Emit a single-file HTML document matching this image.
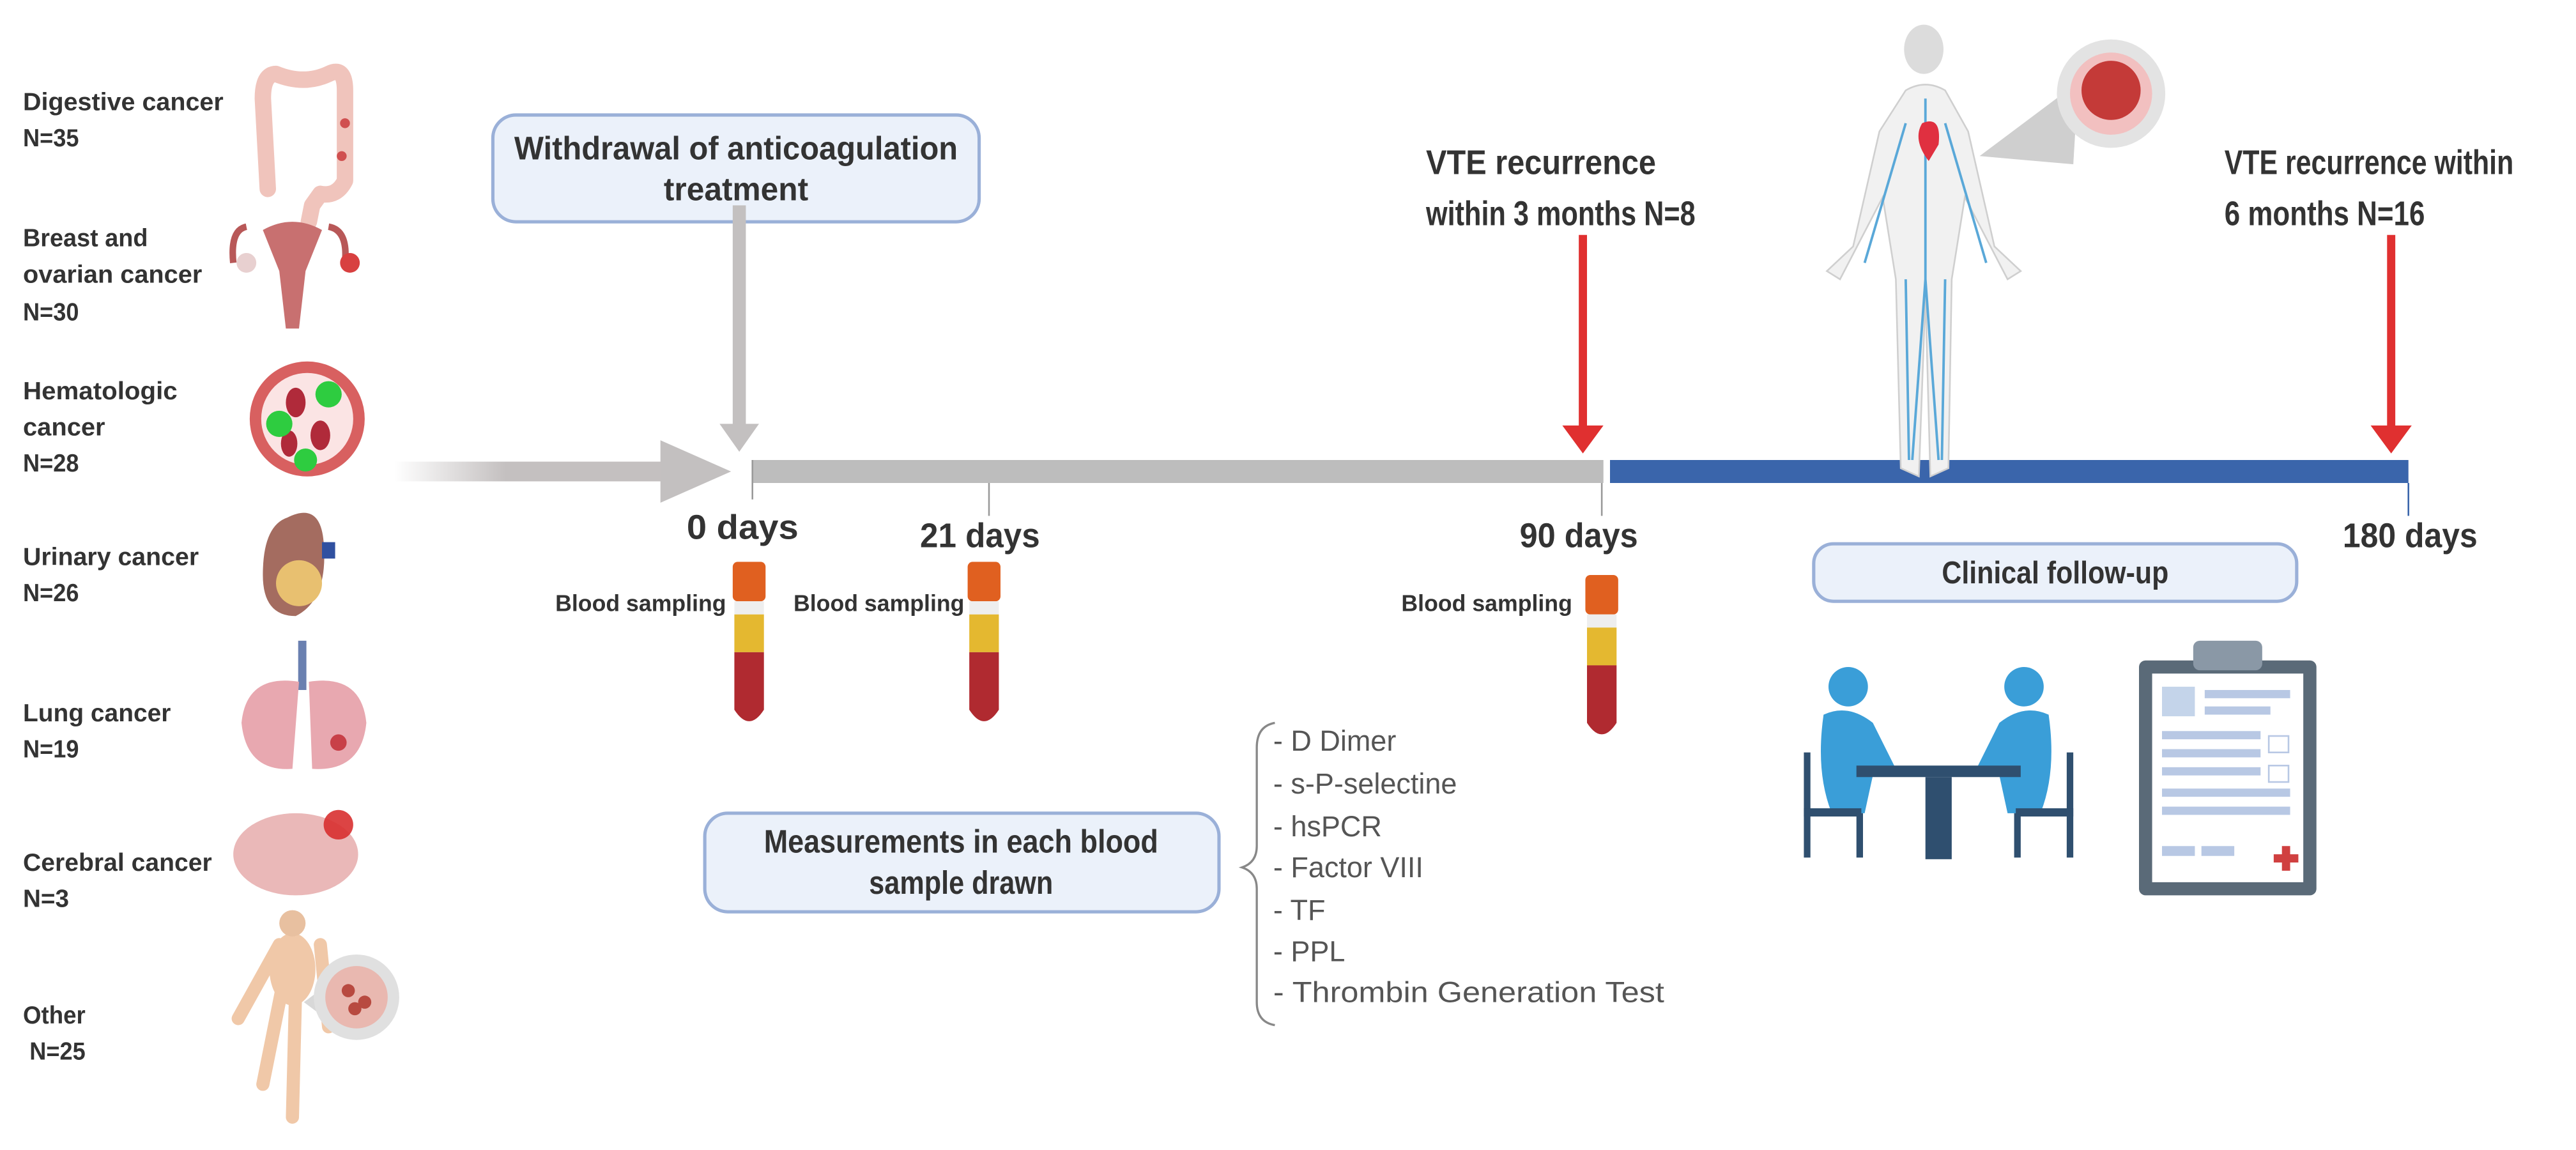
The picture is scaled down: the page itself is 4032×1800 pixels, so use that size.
<!DOCTYPE html>
<html><head><meta charset="utf-8"><style>
html,body{margin:0;padding:0;background:#fff;}
svg{display:block;}
text{font-family:"Liberation Sans Narrow","Liberation Sans",sans-serif;}
.b{font-weight:bold;fill:#333;}
.l{font-size:15px;}
</style></head><body>
<svg width="4032" height="1800" viewBox="0 0 1568 700" xmlns="http://www.w3.org/2000/svg">
<defs>
<linearGradient id="g1" x1="0" x2="1"><stop offset="0" stop-color="#c4c0c0" stop-opacity="0"/><stop offset="0.4" stop-color="#c4c0c0"/></linearGradient>
</defs>
<g class="b l">
<text x="14" y="67" textLength="122" lengthAdjust="spacingAndGlyphs">Digestive cancer</text>
<text x="14" y="89" textLength="34" lengthAdjust="spacingAndGlyphs">N=35</text>
<text x="14" y="150" textLength="76" lengthAdjust="spacingAndGlyphs">Breast and</text>
<text x="14" y="172" textLength="109" lengthAdjust="spacingAndGlyphs">ovarian cancer</text>
<text x="14" y="195" textLength="34" lengthAdjust="spacingAndGlyphs">N=30</text>
<text x="14" y="243" textLength="94" lengthAdjust="spacingAndGlyphs">Hematologic</text>
<text x="14" y="265" textLength="50" lengthAdjust="spacingAndGlyphs">cancer</text>
<text x="14" y="287" textLength="34" lengthAdjust="spacingAndGlyphs">N=28</text>
<text x="14" y="344" textLength="107" lengthAdjust="spacingAndGlyphs">Urinary cancer</text>
<text x="14" y="366" textLength="34" lengthAdjust="spacingAndGlyphs">N=26</text>
<text x="14" y="439" textLength="90" lengthAdjust="spacingAndGlyphs">Lung cancer</text>
<text x="14" y="461" textLength="34" lengthAdjust="spacingAndGlyphs">N=19</text>
<text x="14" y="530" textLength="115" lengthAdjust="spacingAndGlyphs">Cerebral cancer</text>
<text x="14" y="552" textLength="28" lengthAdjust="spacingAndGlyphs">N=3</text>
<text x="14" y="623" textLength="38" lengthAdjust="spacingAndGlyphs">Other</text>
<text x="18" y="645" textLength="34" lengthAdjust="spacingAndGlyphs">N=25</text>
</g>
<g>
<path d="M163 115 L160 60 Q160 45 168 45 Q185 52 200 45 Q210 40 210 55 L210 110 Q205 120 195 118 L190 125 L188 135" stroke="#f0c4bc" stroke-width="10" fill="none" stroke-linecap="round" stroke-linejoin="round"/>
<circle cx="210" cy="75" r="3" fill="#d05050"/><circle cx="208" cy="95" r="3" fill="#d05050"/>
<path d="M150 138 Q140 140 142 160 M200 138 Q212 140 210 160" stroke="#b85858" stroke-width="4" fill="none"/>
<path d="M160 140 Q178 130 196 140 L186 165 L182 200 L174 200 L170 165Z" fill="#c87070"/>
<circle cx="150" cy="160" r="6" fill="#e8d0d0"/><circle cx="213" cy="160" r="6" fill="#d84040"/>
<circle cx="187" cy="255" r="35" fill="#d86060"/><circle cx="187" cy="255" r="28" fill="#fbe4e4"/>
<ellipse cx="180" cy="245" rx="6" ry="9" fill="#b02a3a"/><ellipse cx="195" cy="265" rx="6" ry="9" fill="#b02a3a"/><ellipse cx="176" cy="270" rx="5" ry="8" fill="#b02a3a"/>
<circle cx="200" cy="240" r="8" fill="#2ecc40"/><circle cx="170" cy="258" r="8" fill="#2ecc40"/><circle cx="186" cy="280" r="7" fill="#2ecc40"/>
<path d="M175 315 Q195 305 197 330 Q200 365 180 375 Q160 375 160 350 Q160 320 175 315Z" fill="#a46c60"/>
<circle cx="182" cy="355" r="14" fill="#e8c070"/>
<rect x="196" y="330" width="8" height="10" fill="#3050a0"/>
<path d="M184 390 L184 420" stroke="#6a80b0" stroke-width="5"/>
<path d="M182 415 Q150 410 147 440 Q150 470 178 468Z M188 415 Q220 410 223 440 Q220 470 190 468Z" fill="#e8a8b0"/>
<circle cx="206" cy="452" r="5" fill="#c84048"/>
<ellipse cx="180" cy="520" rx="38" ry="25" fill="#eab8b8"/><circle cx="206" cy="502" r="9" fill="#d83030" opacity="0.9"/>
<path d="M172 600 L160 660 M180 600 L178 680 M170 575 L145 620 M195 575 L200 625" stroke="#f0c8a8" stroke-width="8" stroke-linecap="round"/>
<ellipse cx="178" cy="590" rx="14" ry="22" fill="#f0c8a8"/><circle cx="178" cy="562" r="8" fill="#e8c0a0"/>
<path d="M185 610 L205 595 L205 625Z" fill="#d8d8d8"/>
<circle cx="217" cy="607" r="26" fill="#e0e0e0"/><circle cx="217" cy="607" r="19" fill="#e9b8b0"/>
<circle cx="212" cy="603" r="4" fill="#b84a40"/><circle cx="222" cy="610" r="4" fill="#b84a40"/><circle cx="216" cy="614" r="4" fill="#b84a40"/>
</g>
<rect x="300" y="70" width="296" height="65" rx="14" fill="#ebf1fa" stroke="#9ab0d8" stroke-width="2"/>
<text class="b" x="448" y="97" font-size="20" text-anchor="middle" textLength="270" lengthAdjust="spacingAndGlyphs">Withdrawal of anticoagulation</text>
<text class="b" x="448" y="122" font-size="20" text-anchor="middle" textLength="88" lengthAdjust="spacingAndGlyphs">treatment</text>
<rect x="446" y="125" width="8" height="136" fill="#c3c0c0"/>
<path d="M438 258 L462 258 L450 275Z" fill="#c3c0c0"/>
<rect x="240" y="281" width="170" height="12" fill="url(#g1)"/>
<path d="M402 268 L445 287 L402 306Z" fill="#c3c0c0"/>
<rect x="458" y="280" width="518" height="14" fill="#bdbdbd"/>
<rect x="980" y="280" width="486" height="14" fill="#3a65ab"/>
<g stroke="#999" stroke-width="1"><line x1="458" y1="280" x2="458" y2="304"/><line x1="602" y1="294" x2="602" y2="314"/><line x1="975" y1="294" x2="975" y2="314"/><line x1="1466" y1="294" x2="1466" y2="314" stroke="#3a65ab"/></g>
<rect x="961" y="143" width="5" height="118" fill="#e03030"/><path d="M951 259 L976 259 L963.5 276Z" fill="#e03030"/>
<rect x="1453" y="143" width="5" height="118" fill="#e03030"/><path d="M1443 259 L1468 259 L1455.5 276Z" fill="#e03030"/>
<g class="b" font-size="21">
<text x="418" y="328" textLength="68" lengthAdjust="spacingAndGlyphs">0 days</text>
<text x="560" y="333" textLength="73" lengthAdjust="spacingAndGlyphs">21 days</text>
<text x="925" y="333" textLength="72" lengthAdjust="spacingAndGlyphs">90 days</text>
<text x="1426" y="333" textLength="82" lengthAdjust="spacingAndGlyphs">180 days</text>
</g>
<g class="b" font-size="21">
<text x="868" y="106" textLength="140" lengthAdjust="spacingAndGlyphs">VTE recurrence</text>
<text x="868" y="137" textLength="164" lengthAdjust="spacingAndGlyphs">within 3 months N=8</text>
<text x="1354" y="106" textLength="176" lengthAdjust="spacingAndGlyphs">VTE recurrence within</text>
<text x="1354" y="137" textLength="122" lengthAdjust="spacingAndGlyphs">6 months N=16</text>
</g>
<g>
<ellipse cx="1171" cy="30" rx="12" ry="15" fill="#dcdcdc"/>
<path d="M1160 55 Q1172 48 1184 55 L1198 80 L1214 150 L1230 165 L1222 170 L1196 120 L1188 170 L1186 285 L1175 290 L1172 180 L1168 290 L1157 285 L1154 170 L1146 120 L1120 170 L1112 165 L1128 150 L1144 80Z" fill="#f1f1f1" stroke="#cfcfcf"/>
<path d="M1172 60 L1172 170 L1164 280 M1172 170 L1180 280 M1160 75 L1135 160 M1184 75 L1209 160 M1160 170 L1162 280 M1184 170 L1182 280" stroke="#5aa8d8" stroke-width="1.5" fill="none"/>
<path d="M1170 75 Q1182 70 1180 88 L1174 98 Q1164 85 1170 75Z" fill="#e03040"/>
<path d="M1205 95 L1265 50 L1262 100Z" fill="#cfcfcf"/>
<circle cx="1285" cy="57" r="33" fill="#e3e3e3"/><circle cx="1285" cy="57" r="25" fill="#f2c0c0"/><circle cx="1285" cy="55" r="18" fill="#c43a38"/>
</g>
<g class="b" font-size="14">
<text x="338" y="372" textLength="104" lengthAdjust="spacingAndGlyphs">Blood sampling</text>
<text x="483" y="372" textLength="104" lengthAdjust="spacingAndGlyphs">Blood sampling</text>
<text x="853" y="372" textLength="104" lengthAdjust="spacingAndGlyphs">Blood sampling</text>
</g>
<g id="tube">
<rect x="446" y="342" width="20" height="24" rx="3" fill="#e06020"/>
<rect x="447" y="366" width="18" height="8" fill="#eee"/>
<rect x="447" y="374" width="18" height="23" fill="#e4b830"/>
<path d="M447 397 L465 397 L465 432 Q456 446 447 432Z" fill="#b02a30"/>
</g>
<use href="#tube" x="143"/><use href="#tube" x="519" y="8"/>
<rect x="429" y="495" width="313" height="60" rx="14" fill="#ebf1fa" stroke="#9ab0d8" stroke-width="2"/>
<text class="b" x="585" y="519" font-size="20" text-anchor="middle" textLength="240" lengthAdjust="spacingAndGlyphs">Measurements in each blood</text>
<text class="b" x="585" y="544" font-size="20" text-anchor="middle" textLength="112" lengthAdjust="spacingAndGlyphs">sample drawn</text>
<path d="M776 440 Q765 442 765 455 L765 515 Q765 525 756 528 Q765 531 765 541 L765 610 Q765 622 776 624" stroke="#888" stroke-width="1.3" fill="none"/>
<g font-size="17.5" fill="#555">
<text x="775" y="457">- D Dimer</text>
<text x="775" y="483">- s-P-selectine</text>
<text x="775" y="509">- hsPCR</text>
<text x="775" y="534">- Factor VIII</text>
<text x="775" y="560">- TF</text>
<text x="775" y="585">- PPL</text>
<text x="775" y="610" textLength="238" lengthAdjust="spacingAndGlyphs">- Thrombin Generation Test</text>
</g>
<rect x="1104" y="331" width="294" height="35" rx="12" fill="#ebf1fa" stroke="#9ab0d8" stroke-width="2"/>
<text class="b" x="1251" y="355" font-size="19" text-anchor="middle" textLength="138" lengthAdjust="spacingAndGlyphs">Clinical follow-up</text>
<g fill="#3a9ed8">
<circle cx="1125" cy="418" r="12"/><path d="M1110 435 Q1125 428 1140 440 L1155 470 L1140 472 L1135 495 L1115 495 Q1105 470 1110 435Z"/>
<circle cx="1232" cy="418" r="12"/><path d="M1247 435 Q1232 428 1217 440 L1202 470 L1217 472 L1222 495 L1242 495 Q1252 470 1247 435Z"/>
</g>
<g fill="#2f4f6f">
<rect x="1130" y="466" width="100" height="7"/><rect x="1172" y="473" width="16" height="50"/>
<rect x="1098" y="458" width="4" height="64"/><rect x="1098" y="492" width="35" height="5"/><rect x="1130" y="495" width="4" height="27"/>
<rect x="1258" y="458" width="4" height="64"/><rect x="1227" y="492" width="35" height="5"/><rect x="1226" y="495" width="4" height="27"/>
</g>
<rect x="1302" y="402" width="108" height="143" rx="4" fill="#5a6a78"/>
<rect x="1310" y="410" width="92" height="127" fill="#fff"/>
<rect x="1335" y="390" width="42" height="18" rx="4" fill="#8a98a6"/>
<rect x="1316" y="418" width="20" height="18" fill="#c4d4ea"/>
<g fill="#b8c8e4"><rect x="1342" y="420" width="52" height="5"/><rect x="1342" y="430" width="40" height="5"/><rect x="1316" y="445" width="60" height="5"/><rect x="1316" y="456" width="60" height="5"/><rect x="1316" y="467" width="60" height="5"/><rect x="1316" y="480" width="78" height="5"/><rect x="1316" y="491" width="78" height="5"/><rect x="1316" y="515" width="20" height="6"/><rect x="1340" y="515" width="20" height="6"/></g>
<rect x="1381" y="448" width="12" height="10" fill="none" stroke="#b8c8e4"/><rect x="1381" y="466" width="12" height="10" fill="none" stroke="#b8c8e4"/>
<path d="M1384 520 h5 v-5 h5 v5 h5 v5 h-5 v5 h-5 v-5 h-5Z" fill="#d04040"/>
</svg>
</body></html>
